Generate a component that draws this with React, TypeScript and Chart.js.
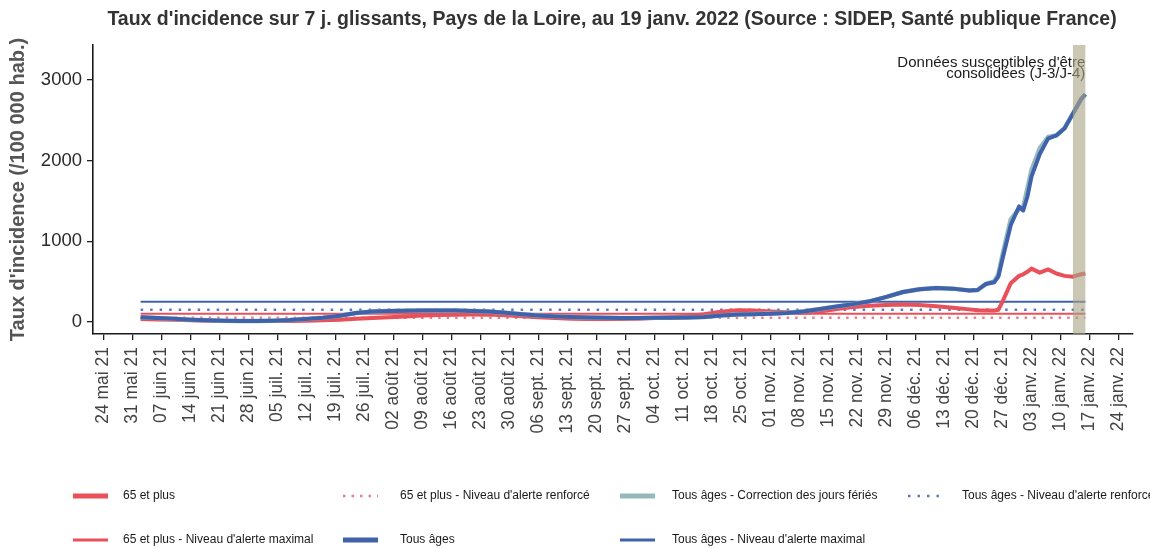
import React, { useEffect, useRef } from 'react';
import { Chart, registerables } from 'chart.js';

Chart.register(...registerables);

// ---------- DATA ----------
const titleText =
  "Taux d'incidence sur 7 j. glissants, Pays de la Loire, au 19 janv. 2022 (Source : SIDEP, Santé publique France)";
const yAxisTitle = "Taux d'incidence (/100 000 hab.)";
const annotationLines = ["Données susceptibles d'être", 'consolidées (J-3/J-4)'];

const axisOrigin = '2021-05-24';

const tickLabels = [
  '24 mai 21', '31 mai 21', '07 juin 21', '14 juin 21', '21 juin 21', '28 juin 21',
  '05 juil. 21', '12 juil. 21', '19 juil. 21', '26 juil. 21', '02 août 21', '09 août 21',
  '16 août 21', '23 août 21', '30 août 21', '06 sept. 21', '13 sept. 21', '20 sept. 21',
  '27 sept. 21', '04 oct. 21', '11 oct. 21', '18 oct. 21', '25 oct. 21', '01 nov. 21',
  '08 nov. 21', '15 nov. 21', '22 nov. 21', '29 nov. 21', '06 déc. 21', '13 déc. 21',
  '20 déc. 21', '27 déc. 21', '03 janv. 22', '10 janv. 22', '17 janv. 22', '24 janv. 22',
];

const yTickValues = [0, 1000, 2000, 3000];

const sampleDates = [
  '2021-06-02', '2021-06-06', '2021-06-10', '2021-06-14', '2021-06-18', '2021-06-22',
  '2021-06-26', '2021-06-30', '2021-07-04', '2021-07-08', '2021-07-12', '2021-07-16',
  '2021-07-20', '2021-07-24', '2021-07-28', '2021-08-01', '2021-08-05', '2021-08-09',
  '2021-08-13', '2021-08-17', '2021-08-21', '2021-08-25', '2021-08-29', '2021-09-02',
  '2021-09-06', '2021-09-10', '2021-09-14', '2021-09-18', '2021-09-22', '2021-09-26',
  '2021-09-30', '2021-10-04', '2021-10-08', '2021-10-12', '2021-10-16', '2021-10-20',
  '2021-10-24', '2021-10-28', '2021-11-01', '2021-11-05', '2021-11-09', '2021-11-13',
  '2021-11-17', '2021-11-21', '2021-11-25', '2021-11-29', '2021-12-03', '2021-12-07',
  '2021-12-11', '2021-12-15', '2021-12-19', '2021-12-21', '2021-12-23', '2021-12-25',
  '2021-12-26', '2021-12-27', '2021-12-29', '2021-12-31', '2022-01-01', '2022-01-02',
  '2022-01-03', '2022-01-05', '2022-01-07', '2022-01-09', '2022-01-11', '2022-01-13',
  '2022-01-15', '2022-01-16',
];

const tousAges = [
  58, 48, 38, 28, 20, 15,
  12, 12, 15, 22, 35, 50,
  75, 110, 130, 135, 138, 140,
  140, 140, 136, 128, 112, 95,
  80, 68, 60, 55, 50, 48,
  48, 50, 52, 55, 62, 78,
  92, 96, 100, 110, 130, 160,
  190, 220, 255, 310, 370, 405,
  420, 412, 390, 395, 470, 490,
  560, 780, 1200, 1430, 1380, 1550,
  1800, 2080, 2270, 2310, 2400, 2580,
  2760, 2820,
];

const tousAgesCorrection = [
  58, 48, 38, 28, 20, 15,
  12, 12, 15, 22, 35, 50,
  75, 110, 130, 135, 138, 140,
  140, 140, 136, 128, 112, 95,
  80, 68, 60, 55, 50, 48,
  48, 50, 52, 55, 62, 78,
  92, 98, 104, 112, 133, 160,
  190, 220, 255, 310, 370, 405,
  420, 412, 390, 395, 470, 500,
  590, 830, 1270, 1400, 1420, 1650,
  1880, 2150, 2290, 2310, 2400, 2580,
  2760, 2820,
];

const plus65 = [
  35, 30, 25, 20, 15, 12,
  10, 10, 10, 12, 15, 20,
  28, 38, 48, 58, 68, 78,
  85, 90, 92, 90, 82, 70,
  58, 48, 40, 36, 35, 35,
  40, 48, 58, 72, 95, 125,
  145, 140, 128, 118, 112, 128,
  160, 185, 200, 210, 215, 210,
  195, 175, 155, 145, 140, 140,
  150, 250, 480, 570, 590, 620,
  660, 610, 650, 600, 570, 560,
  590, 600,
];

const seuil65Max = 100;
const seuil65Renf = 50;
const seuilTousMax = 250;
const seuilTousRenf = 150;

const consolidationDays = 3;

// ---------- HELPERS ----------
const DAY = 86400000;
const originMs = Date.parse(axisOrigin + 'T00:00:00Z');
const toDay = (iso: string) => (Date.parse(iso + 'T00:00:00Z') - originMs) / DAY;
const days = sampleDates.map(toDay);
const firstDay = days[0];
const lastDay = days[days.length - 1];
const series = (vals: number[]) => days.map((d, i) => ({ x: d, y: vals[i] }));
const flat = (v: number) => [
  { x: firstDay, y: v },
  { x: lastDay, y: v },
];

const FONT = '"Liberation Sans", Arial, Helvetica, sans-serif';

const RED = '#e8505a';
const RED_DOT = '#e8808a';
const BLUE = '#3f62ab';
const BLUE_DOT = '#5b78bf';
const TEAL = '#93b9bd';

const legendColX = [73, 343, 620, 908];
const legendTextX = [123, 400, 672, 962];
const legendRowY = [496, 540];

const overlayPlugin = {
  id: 'overlay',
  afterDatasetsDraw(chart: any) {
    const { ctx, chartArea, scales } = chart;
    const x = scales.x;
    ctx.save();
    // annotation text
    ctx.font = `15px ${FONT}`;
    ctx.fillStyle = '#1a1a1a';
    ctx.textAlign = 'right';
    ctx.textBaseline = 'alphabetic';
    const ax = x.getPixelForValue(lastDay);
    ctx.fillText(annotationLines[0], ax, 67);
    ctx.fillText(annotationLines[1], ax, 77.5);
    // consolidation band
    const x0 = x.getPixelForValue(lastDay - consolidationDays);
    const x1 = x.getPixelForValue(lastDay);
    ctx.fillStyle = 'rgba(170,164,134,0.62)';
    ctx.fillRect(x0, chartArea.top, x1 - x0, chartArea.bottom - chartArea.top);
    ctx.restore();
  },
  afterDraw(chart: any) {
    const { ctx } = chart;
    ctx.save();
    // title
    ctx.font = `bold 19.5px ${FONT}`;
    ctx.fillStyle = '#333';
    ctx.textAlign = 'center';
    ctx.textBaseline = 'middle';
    ctx.fillText(titleText, 612, 20);
    // legend (column-major, 2 rows)
    ctx.font = `12px ${FONT}`;
    ctx.textAlign = 'left';
    chart.data.datasets.forEach((ds: any, i: number) => {
      const col = Math.floor(i / 2);
      const row = i % 2;
      const y = legendRowY[row];
      const sx = legendColX[col];
      ctx.save();
      ctx.strokeStyle = ds.borderColor;
      ctx.lineWidth = ds.legendWidth;
      ctx.setLineDash(ds.borderDash || []);
      ctx.lineCap = 'butt';
      ctx.beginPath();
      ctx.moveTo(sx, y);
      ctx.lineTo(sx + 35, y);
      ctx.stroke();
      ctx.restore();
      ctx.fillStyle = '#1a1a1a';
      ctx.fillText(ds.label, legendTextX[col], y);
    });
    ctx.restore();
  },
};

export default function App() {
  const ref = useRef<HTMLCanvasElement | null>(null);

  useEffect(() => {
    document.body.style.margin = '0';
    const canvas = ref.current;
    if (!canvas) return;

    const common = { pointRadius: 0, pointHoverRadius: 0, tension: 0, fill: false, borderJoinStyle: 'round' as const };

    const chart = new Chart(canvas, {
      type: 'line',
      data: {
        datasets: [
          { ...common, label: '65 et plus', data: series(plus65), borderColor: RED, borderWidth: 4, legendWidth: 5, order: 2 } as any,
          { ...common, label: "65 et plus - Niveau d'alerte maximal", data: flat(seuil65Max), borderColor: RED, borderWidth: 2, legendWidth: 3, order: 4 } as any,
          { ...common, label: "65 et plus - Niveau d'alerte renforcé", data: flat(seuil65Renf), borderColor: RED_DOT, borderWidth: 2.5, borderDash: [2.5, 6], legendWidth: 2.5, order: 6 } as any,
          { ...common, label: 'Tous âges', data: series(tousAges), borderColor: BLUE, borderWidth: 4, legendWidth: 5, order: 0 } as any,
          { ...common, label: 'Tous âges - Correction des jours fériés', data: series(tousAgesCorrection), borderColor: TEAL, borderWidth: 4.5, legendWidth: 5, order: 1 } as any,
          { ...common, label: "Tous âges - Niveau d'alerte maximal", data: flat(seuilTousMax), borderColor: BLUE, borderWidth: 2, legendWidth: 3, order: 3 } as any,
          { ...common, label: "Tous âges - Niveau d'alerte renforcé", data: flat(seuilTousRenf), borderColor: BLUE_DOT, borderWidth: 2.5, borderDash: [2.5, 7], legendWidth: 2.5, order: 5 } as any,
        ],
      },
      options: {
        responsive: false,
        animation: false,
        events: [],
        layout: { padding: { left: 0, right: 17, top: 45, bottom: 100 } },
        plugins: {
          legend: { display: false },
          title: { display: false },
          tooltip: { enabled: false },
        },
        scales: {
          x: {
            type: 'linear',
            min: -2.5,
            max: 248.5,
            afterFit: (s: any) => { s.height = 114; },
            afterBuildTicks: (s: any) => {
              s.ticks = tickLabels.map((_, i) => ({ value: i * 7 }));
            },
            grid: { display: true, drawOnChartArea: false, drawTicks: true, tickLength: 6, color: '#222', lineWidth: 1.3 },
            border: { display: true, color: '#1a1a1a', width: 1.6 },
            ticks: {
              autoSkip: false,
              maxRotation: 90,
              minRotation: 90,
              padding: 7,
              color: '#444',
              font: { family: FONT, size: 17.5 },
              callback: (v: any) => tickLabels[Math.round(Number(v) / 7)] ?? '',
            },
          },
          y: {
            type: 'linear',
            min: -150,
            max: 3430,
            afterFit: (s: any) => { s.width = 93; },
            afterBuildTicks: (s: any) => {
              s.ticks = yTickValues.map((v) => ({ value: v }));
            },
            grid: { display: true, drawOnChartArea: false, drawTicks: true, tickLength: 6, color: '#222', lineWidth: 1.3 },
            border: { display: true, color: '#1a1a1a', width: 1.6 },
            ticks: {
              padding: 5,
              color: '#2a2a2a',
              font: { family: FONT, size: 18.5 },
              callback: (v: any) => String(v),
            },
            title: {
              display: true,
              text: yAxisTitle,
              color: '#555',
              font: { family: FONT, size: 20, weight: 'bold' },
              padding: { top: 6, bottom: 0 },
            },
          },
        },
      },
      plugins: [overlayPlugin],
    } as any);

    return () => chart.destroy();
  }, []);

  return (
    <div style={{ width: 1150, height: 548, background: '#fff' }}>
      <canvas ref={ref} width={1150} height={548} style={{ display: 'block' }} />
    </div>
  );
}
